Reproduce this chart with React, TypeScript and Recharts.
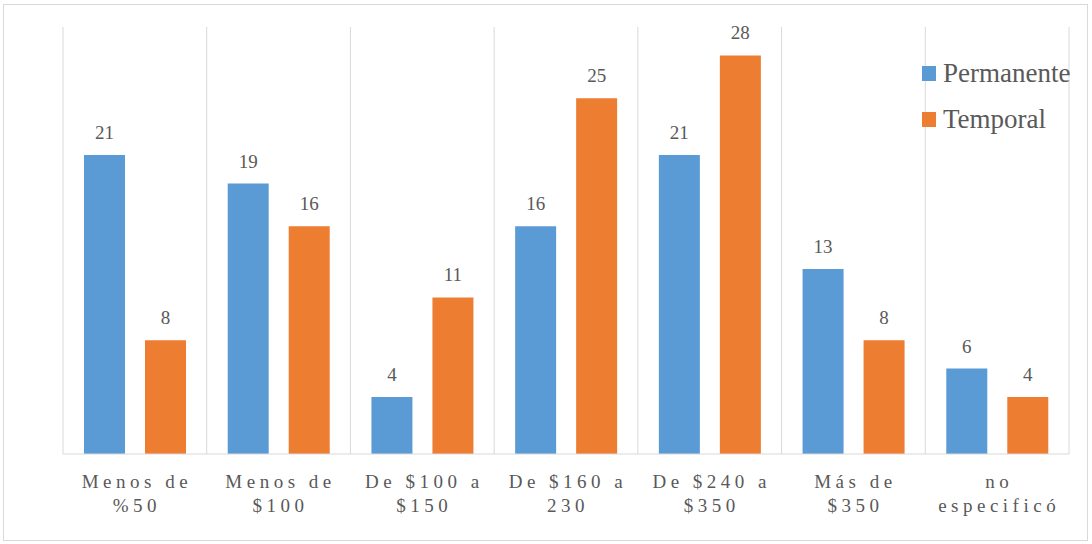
import React from 'react';
import { BarChart, Bar, XAxis, YAxis, CartesianGrid, LabelList } from 'recharts';

const categories = [
  'Menos de %50',
  'Menos de $100',
  'De $100 a $150',
  'De $160 a 230',
  'De $240 a $350',
  'Más de $350',
  'no especificó',
];
const permanente = [21, 19, 4, 16, 21, 13, 6];
const temporal = [8, 16, 11, 25, 28, 8, 4];
const seriesNames = ['Permanente', 'Temporal'];

const BLUE = '#5B9BD5';
const ORANGE = '#ED7D31';
const GRID = '#D9D9D9';
const TEXT = '#595959';
const FONT = "'Times New Roman', Times, 'Liberation Serif', 'DejaVu Serif', 'Noto Serif', serif";

const data = categories.map((name, i) => ({
  name,
  Permanente: permanente[i],
  Temporal: temporal[i],
}));

const CategoryTick = (props: any) => {
  const { x, y, payload } = props;
  const label: string = payload.value;
  const cut = label.lastIndexOf(' ');
  const lines = [label.slice(0, cut), label.slice(cut + 1)];
  return (
    <g transform={`translate(${x},${y})`}>
      {lines.map((line, i) => (
        <text
          key={i}
          x={2}
          y={26 + i * 24}
          textAnchor="middle"
          fill={TEXT}
          style={{ fontFamily: FONT, fontSize: 19, letterSpacing: 4.5 }}
        >
          {line}
        </text>
      ))}
    </g>
  );
};

const ValueLabel = (props: any) => {
  const { x, y, width, value } = props;
  return (
    <text
      x={x + width / 2}
      y={y - 16}
      textAnchor="middle"
      fill={TEXT}
      style={{ fontFamily: FONT, fontSize: 19 }}
    >
      {value}
    </text>
  );
};

export default function App() {
  const colors = [BLUE, ORANGE];
  return (
    <div style={{ position: 'absolute', left: 0, top: 0, width: 1092, height: 544, background: '#fff' }}>
      <style>{`body{margin:0}`}</style>
      <div
        style={{
          position: 'absolute',
          left: 3,
          top: 4,
          width: 1085,
          height: 537,
          border: `1px solid ${GRID}`,
          boxSizing: 'border-box',
        }}
      />
      <BarChart
        width={1092}
        height={544}
        data={data}
        margin={{ top: 27, right: 23, bottom: 0, left: 63 }}
        barSize={41}
        barGap={20}
      >
        <CartesianGrid
          horizontal={false}
          stroke={GRID}
          verticalCoordinatesGenerator={({ offset }: any) =>
            categories.map((_, i) => offset.left + (i * offset.width) / categories.length).concat(offset.left + offset.width)
          }
        />
        <XAxis
          dataKey="name"
          axisLine={{ stroke: GRID }}
          tickLine={false}
          interval={0}
          tick={<CategoryTick />}
          height={90}
        />
        <YAxis hide domain={[0, 30]} />
        <Bar dataKey="Permanente" fill={BLUE} isAnimationActive={false}>
          <LabelList dataKey="Permanente" content={<ValueLabel />} />
        </Bar>
        <Bar dataKey="Temporal" fill={ORANGE} isAnimationActive={false}>
          <LabelList dataKey="Temporal" content={<ValueLabel />} />
        </Bar>
      </BarChart>
      <div style={{ position: 'absolute', left: 922, top: 50 }}>
        {seriesNames.map((label, i) => (
          <div
            key={label}
            style={{ display: 'flex', alignItems: 'center', height: 46, fontFamily: FONT, fontSize: 27, color: TEXT }}
          >
            <span style={{ display: 'inline-block', width: 14, height: 15, background: colors[i], marginRight: 7 }} />
            <span>{label}</span>
          </div>
        ))}
      </div>
    </div>
  );
}
